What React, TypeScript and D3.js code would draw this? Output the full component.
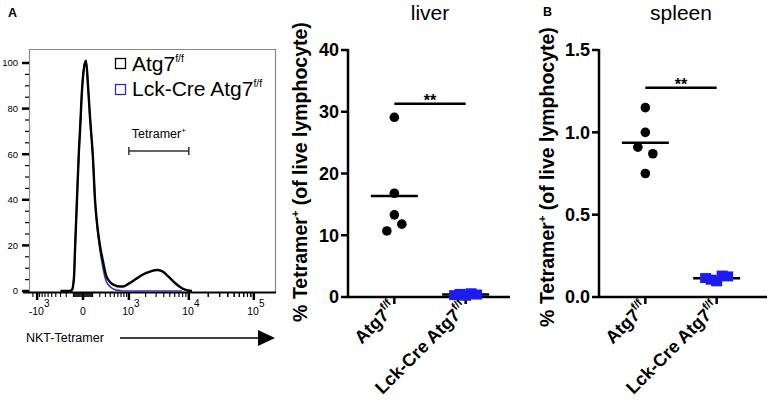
import React, { useEffect, useRef } from 'react';
import * as d3 from 'd3';

// flow histogram: fluorescence (biexponential axis) vs % of max
const histX = [-300, -145, -118, -93, -81, -59, -38, -28, -9, 9, 28, 48, 70, 105, 131, 158, 203, 254, 310, 394, 518, 666, 767, 962, 1300, 1730, 2370, 3100, 3750, 4680, 6060, 7810, 9700, 11200];
const histAtg7 = [0, 0, 0.5, 6, 18, 40, 62, 70, 88, 98, 101, 90, 76, 58, 40, 30, 20, 13, 7, 4, 2.5, 2, 2, 3, 5, 7, 8.5, 9.2, 8.7, 6.5, 3.5, 1.2, 0.2, 0];
const histLck = [0, 0, 0.5, 6, 18, 40, 62, 70, 88, 98, 101, 90, 76, 58, 40, 29, 18, 10, 4.5, 2, 0.6, 0.2, 0, 0, 0, 0, 0, 0, 0, 0, 0, 0];
const histYTicks = [0, 20, 40, 60, 80, 100];
const histXTicks = [-1000, 0, 1000, 10000, 100000];
const histXBase = ['-10', '0', '10', '10', '10'];
const histXExp = ['3', '', '3', '4', '5'];
const gate = [1000, 10000];

const groups = ['Atg7', 'Lck-Cre Atg7'];

// liver
const liverAtg7 = [29.1, 16.8, 13.3, 11.8, 10.7];
const liverLck = [0.3, 0.5, 0.2, 0.6, 0.4];
const liverSlotsAtg7 = [0, 0, 0, 1, -1];
const liverSlotsLck = [-2, -1, 0, 1, 2];
const liverTicks = [0, 10, 20, 30, 40];
const liverSig = 31.3;

// spleen
const spleenAtg7 = [1.15, 1.0, 0.91, 0.87, 0.75];
const spleenLck = [0.115, 0.105, 0.095, 0.13, 0.125];
const spleenSlotsAtg7 = [0, 0, -1, 1, 0];
const spleenSlotsLck = [-2, -1, 0, 1, 2];
const spleenTicks = [0, 0.5, 1.0, 1.5];
const spleenSig = 1.27;

const FONT = 'Liberation Sans, Arial, sans-serif';
const BLUE = '#1c1cf0';

type Panel = {
  x0: number;
  title: string;
  titleX: number;
  titleCy: number;
  atg: number[];
  lck: number[];
  slotsA: number[];
  slotsL: number[];
  ticks: number[];
  fmt: (v: number) => string;
  sig: number;
  axisEnd: number;
};

const drawPanel = (svg: d3.Selection<SVGSVGElement, unknown, null, undefined>, p: Panel) => {
  const g = svg.append('g');
  const y = d3.scaleLinear().domain([0, p.ticks[p.ticks.length - 1]]).range([297, 50]);
  const x = d3.scalePoint().domain(groups).range([p.x0, p.x0 + 164]).padding(0.65);
  const xa = x(groups[0]) as number;
  const xl = x(groups[1]) as number;

  // axes
  g.append('line').attr('x1', p.x0).attr('x2', p.x0).attr('y1', y(p.ticks[p.ticks.length - 1]) - 1).attr('y2', 298)
    .attr('stroke', '#000').attr('stroke-width', 2.5);
  g.append('line').attr('x1', p.x0 - 1).attr('x2', p.axisEnd).attr('y1', 297).attr('y2', 297)
    .attr('stroke', '#000').attr('stroke-width', 2.5);

  g.selectAll('.yt').data(p.ticks).enter().append('line')
    .attr('x1', p.x0 - 7).attr('x2', p.x0).attr('y1', d => y(d)).attr('y2', d => y(d))
    .attr('stroke', '#000').attr('stroke-width', 2.5);
  g.selectAll('.yl').data(p.ticks).enter().append('text')
    .attr('x', p.x0 - 9).attr('y', d => y(d)).attr('dy', '0.36em')
    .attr('text-anchor', 'end').attr('font-size', 18).attr('font-weight', 'bold')
    .text(d => p.fmt(d));

  g.selectAll('.xt').data(groups).enter().append('line')
    .attr('x1', d => x(d) as number).attr('x2', d => x(d) as number).attr('y1', 297).attr('y2', 304)
    .attr('stroke', '#000').attr('stroke-width', 2.5);

  // category labels
  groups.forEach(c => {
    const t = g.append('text')
      .attr('transform', `translate(${(x(c) as number) + 3},309) rotate(-45)`)
      .attr('text-anchor', 'end').attr('font-size', 18).attr('font-weight', 'bold');
    t.append('tspan').text(c);
    t.append('tspan').attr('font-size', 11).attr('dy', -8).text('f/f');
  });

  // y title
  const yt = g.append('text')
    .attr('transform', `translate(${p.titleX},${p.titleCy}) rotate(-90)`)
    .attr('text-anchor', 'middle').attr('font-size', 19.5).attr('font-weight', 'bold');
  yt.append('tspan').text('% Tetramer');
  yt.append('tspan').attr('font-size', 11).attr('dy', -8).text('+');
  yt.append('tspan').attr('dy', 8).text(' (of live lymphocyte)');

  // title
  g.append('text').attr('x', (xa + xl) / 2).attr('y', 20).attr('text-anchor', 'middle')
    .attr('font-size', 21).text(p.title);

  // mean lines
  [[xa, d3.mean(p.atg) as number], [xl, d3.mean(p.lck) as number]].forEach(([cx, m]) => {
    g.append('line').attr('x1', cx - 23.5).attr('x2', cx + 23.5).attr('y1', y(m)).attr('y2', y(m))
      .attr('stroke', '#000').attr('stroke-width', 2.5);
  });

  // points
  g.selectAll('.dot').data(p.atg).enter().append('circle')
    .attr('cx', (d, i) => xa + p.slotsA[i] * 7.5).attr('cy', d => y(d)).attr('r', 4.8).attr('fill', '#000');
  g.selectAll('.sq').data(p.lck).enter().append('rect')
    .attr('x', (d, i) => xl + p.slotsL[i] * 5.5 - 5.5).attr('y', d => y(d) - 5)
    .attr('width', 11).attr('height', 10).attr('fill', BLUE);

  // significance
  g.append('line').attr('x1', xa).attr('x2', xl).attr('y1', y(p.sig)).attr('y2', y(p.sig))
    .attr('stroke', '#000').attr('stroke-width', 2.5);
  g.append('text').attr('x', (xa + xl) / 2).attr('y', y(p.sig) + 2).attr('text-anchor', 'middle')
    .attr('font-size', 16).attr('font-weight', 'bold').text('**');
};

const App = () => {
  const ref = useRef<SVGSVGElement>(null);

  useEffect(() => {
    const svg = d3.select(ref.current as SVGSVGElement);
    svg.selectAll('*').remove();
    svg.attr('font-family', FONT);

    // ---- histogram (A) ----
    const hx = d3.scaleSymlog().constant(250).domain([-1413, 210500]).range([29, 275]);
    const hy = d3.scaleLinear().domain([0, 100]).range([291, 63]);

    svg.append('text').attr('x', 8).attr('y', 17).attr('font-size', 12.5).attr('font-weight', 'bold').text('A');

    svg.append('path').attr('d', 'M29.5,292 V49.5 H275.5 V292').attr('fill', 'none')
      .attr('stroke', '#8a8a8a').attr('stroke-width', 1.2);

    // y ticks
    const minorY = d3.range(0, 101, 5).filter(v => v % 20 !== 0);
    svg.selectAll('.hym').data(minorY).enter().append('line')
      .attr('x1', 25).attr('x2', 29).attr('y1', d => hy(d)).attr('y2', d => hy(d))
      .attr('stroke', '#000').attr('stroke-width', 1.2);
    svg.selectAll('.hyt').data(histYTicks).enter().append('line')
      .attr('x1', 22).attr('x2', 29).attr('y1', d => hy(d)).attr('y2', d => hy(d))
      .attr('stroke', '#000').attr('stroke-width', 2.5);
    svg.selectAll('.hyl').data(histYTicks).enter().append('text')
      .attr('x', 18).attr('y', d => hy(d)).attr('dy', '0.36em').attr('text-anchor', 'end')
      .attr('font-size', 9.5).text(d => d);

    // x axis
    svg.append('line').attr('x1', 23).attr('x2', 276).attr('y1', 292.5).attr('y2', 292.5)
      .attr('stroke', '#000').attr('stroke-width', 2);
    const minorX: number[] = [];
    [10, 100, 1000, 10000].forEach(d => {
      d3.range(1, 10).forEach(m => {
        if (m * d !== 1000 && m * d !== 10000) minorX.push(m * d);
        if (d < 1000) minorX.push(-m * d);
      });
    });
    d3.range(2, 10).forEach(m => { if (m * 10000 < 210500) minorX.push(m * 10000); });
    minorX.push(-1200);
    svg.selectAll('.hxm').data(minorX.filter(v => v !== -1000)).enter().append('line')
      .attr('x1', d => hx(d)).attr('x2', d => hx(d)).attr('y1', 293).attr('y2', 297)
      .attr('stroke', '#000').attr('stroke-width', 1.1);
    svg.selectAll('.hxt').data(histXTicks).enter().append('line')
      .attr('x1', d => hx(d)).attr('x2', d => hx(d)).attr('y1', 293).attr('y2', 300)
      .attr('stroke', '#000').attr('stroke-width', 2.5);
    histXTicks.forEach((v, i) => {
      const t = svg.append('text').attr('x', hx(v) + (histXExp[i] ? 2 : 0)).attr('y', 315)
        .attr('text-anchor', 'middle').attr('font-size', 10.5);
      t.append('tspan').text(histXBase[i]);
      if (histXExp[i]) t.append('tspan').attr('font-size', 10).attr('dy', -8).text(histXExp[i]);
    });

    // curves
    const lckPts = histLck.map((v, i) => [hx(histX[i]), hy(v)] as [number, number]);
    const atgPts = histAtg7.map((v, i) => [hx(histX[i]), hy(v)] as [number, number]);
    const ln = d3.line().curve(d3.curveMonotoneX);
    svg.append('path').attr('d', ln(lckPts)).attr('fill', 'none').attr('stroke', '#3434c4').attr('stroke-width', 1.6);
    svg.append('path').attr('d', ln(atgPts)).attr('fill', 'none').attr('stroke', '#000').attr('stroke-width', 2.4);

    // legend
    const legend = [['Atg7', '#000'], ['Lck-Cre Atg7', '#2e2ed0']];
    legend.forEach(([label, col], i) => {
      svg.append('rect').attr('x', 115.5).attr('y', 58.5 + i * 26).attr('width', 10).attr('height', 10)
        .attr('fill', 'none').attr('stroke', col).attr('stroke-width', 1.3);
      const t = svg.append('text').attr('x', 132).attr('y', 70.5 + i * 25.5).attr('font-size', 21);
      t.append('tspan').text(label);
      t.append('tspan').attr('font-size', 10.5).attr('dy', -9).text('f/f');
    });

    // gate
    const g0 = hx(gate[0]);
    const g1 = hx(gate[1]);
    const gt = svg.append('text').attr('x', (g0 + g1) / 2).attr('y', 138).attr('text-anchor', 'middle')
      .attr('font-size', 12.5);
    gt.append('tspan').text('Tetramer');
    gt.append('tspan').attr('font-size', 8).attr('dy', -5).text('+');
    svg.append('path').attr('d', `M${g0},147 V155 M${g0},151 H${g1} M${g1},147 V155`)
      .attr('stroke', '#333').attr('stroke-width', 1.5).attr('fill', 'none');

    // axis name + arrow
    svg.append('text').attr('x', 26).attr('y', 342).attr('font-size', 12.5).text('NKT-Tetramer');
    svg.append('line').attr('x1', 120).attr('x2', 260).attr('y1', 338).attr('y2', 338)
      .attr('stroke', '#000').attr('stroke-width', 1.5);
    svg.append('path').attr('d', 'M258,330 L275,338 L258,346 Z').attr('fill', '#000');

    // ---- dot plots ----
    drawPanel(svg, {
      x0: 348, title: 'liver', titleX: 307, titleCy: 172,
      atg: liverAtg7, lck: liverLck, slotsA: liverSlotsAtg7, slotsL: liverSlotsLck,
      ticks: liverTicks, fmt: d => String(d), sig: liverSig, axisEnd: 510,
    });
    svg.append('text').attr('x', 543).attr('y', 16).attr('font-size', 12.5).attr('font-weight', 'bold').text('B');
    drawPanel(svg, {
      x0: 599, title: 'spleen', titleX: 554, titleCy: 177,
      atg: spleenAtg7, lck: spleenLck, slotsA: spleenSlotsAtg7, slotsL: spleenSlotsLck,
      ticks: spleenTicks, fmt: d => d.toFixed(1), sig: spleenSig, axisEnd: 767,
    });
  }, []);

  return (
    <svg ref={ref} width={767} height={410}
      style={{ position: 'absolute', left: 0, top: 0, background: '#fff' }} />
  );
};

export default App;
